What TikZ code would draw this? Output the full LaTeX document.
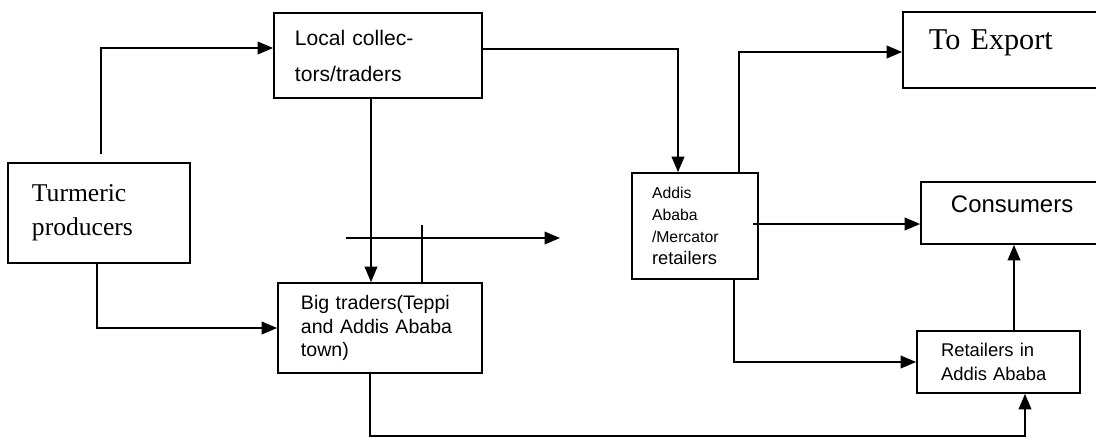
\documentclass[tikz,border=0pt]{standalone}
\usepackage{fontspec}
\setmainfont{Liberation Serif}
\setsansfont{Liberation Sans}
\usepackage{tikz}
\usetikzlibrary{arrows.meta, positioning, calc}

\begin{document}
\begin{tikzpicture}[x=0.025cm, y=-0.025cm,
		box/.style={draw, line width=1.2pt, rectangle, align=left, inner ysep=0pt},
		arr/.style={line width=1.1pt, -{Triangle[length=11pt, width=9pt]}},
		link/.style={line width=1.1pt}]
	\useasboundingbox (0,0) rectangle (1096,436);
	\clip (0,0) rectangle (1096,436);
	\node[box, inner xsep=0.6cm, text width=3.35cm, minimum height=2.5cm,
		font=\fontsize{18.2pt}{24.2pt}\selectfont] (prod) at (99,213) {Turmeric\\producers};
	\node[box, inner xsep=0.525cm, text width=4.15cm, minimum height=2.125cm,
		font=\sffamily\fontsize{15pt}{25.6pt}\selectfont] (local) at (378,55.5) {Local collec-\\tors/traders};
	\node[box, inner xsep=0.575cm, text width=3.95cm, minimum height=2.25cm,
		font=\sffamily\fontsize{13.9pt}{17pt}\selectfont] (big) at (380,328) {Big traders(Teppi\\and Addis Ababa\\town)};
	\node[box, inner xsep=0.5cm, text width=2.15cm, minimum height=2.65cm,
		font=\sffamily\fontsize{11.2pt}{15.6pt}\selectfont] (addis) at (695,226)
		{Addis\\Ababa\\/Mercator\\{\fontsize{13pt}{15.6pt}\selectfont retailers}};
	\node[box, inner xsep=0.65cm, text width=3.875cm, minimum height=1.9cm, text depth=0.5cm,
		font=\fontsize{21.5pt}{24pt}\selectfont] (export) at (1006.5,50) {To Export};
	\node[box, inner xsep=0.75cm, text width=3.225cm, minimum height=1.55cm, text depth=0.43cm,
		font=\sffamily\fontsize{17pt}{20pt}\selectfont] (cons) at (1015.5,213) {Consumers};
	\node[box, inner xsep=0.6cm, text width=2.875cm, minimum height=1.55cm,
		font=\sffamily\fontsize{13.1pt}{17pt}\selectfont] (retail) at (998.5,362) {Retailers in\\Addis Ababa};

	\coordinate (tick) at (422,225);
	\coordinate (flowstart) at (346,238);
	\coordinate (flowend) at (560,238);

	\draw[arr, shorten <=0.2cm] ($(prod.north)+(2,0)$) |- ($(local.west)+(0,-7.5)$);
	\draw[arr] ($(prod.south)+(-2,0)$) |- (big.west);
	\draw[arr] ($(local.east)+(0,-6.5)$) -| ($(addis.north)+(-17,0)$);
	\draw[arr] ($(local.south)+(-7,0)$) -- ($(big.north)+(-9,0)$);
	\draw[link] (big.north -| tick) -- (tick);
	\draw[arr] (flowstart) -- (flowend);
	\draw[arr] ($(addis.north)+(44,0)$) |- ($(export.west)+(0,2)$);
	\draw[arr] ($(addis.east)+(-6,-2)$) -- ($(cons.west)+(0,11)$);
	\draw[arr] ($(addis.south)+(39,0)$) |- (retail.west);
	\draw[arr] ($(retail.north)+(15.5,0)$) -- ($(cons.south)+(-1.5,0)$);
	\draw[arr] ($(big.south)+(-10,0)$) -- ++(0,62) -| ($(retail.south)+(26.5,0)$);
\end{tikzpicture}
\end{document}
